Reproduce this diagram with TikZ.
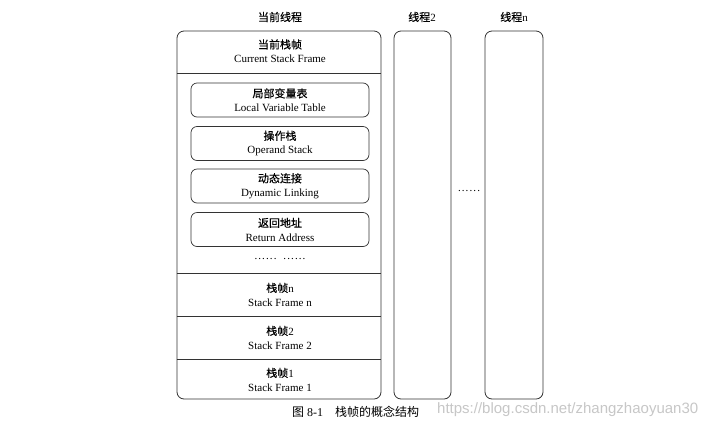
\documentclass[tikz,border=0pt]{standalone}
\usepackage{fontspec}
\setmainfont{Liberation Serif}
\newfontfamily\cjk[FakeBold=0.4]{Noto Sans CJK SC}
\newfontfamily\cjkreg{Noto Sans CJK SC}
\newfontfamily\wm{Liberation Sans}
\newcommand\mydots{.\kern1.1pt.\kern1.1pt.\kern1.1pt.\kern1.1pt.\kern1.1pt.}
\begin{document}
\begin{tikzpicture}[x=1pt,y=-1pt,
  frame/.style={draw=black!80,line width=0.8pt,rounded corners=7pt},
  inner/.style={draw=black!80,line width=0.7pt,rounded corners=6pt,minimum width=178pt,minimum height=34pt},
  lab/.style={align=center,font=\fontsize{11}{14}\selectfont,inner sep=0pt},
  sep/.style={draw=black!80,line width=0.7pt}]
\useasboundingbox (0,0) rectangle (722,429);
\fill[white] (0,0) rectangle (722,429);
% headings
\node[lab] (h1) at (280,17) {\cjk 当前线程};
\node[lab] (h2) at (422,17) {\cjk 线程\rmfamily 2};
\node[lab] (h3) at (514,17) {\cjk 线程\rmfamily n};
% thread boxes
\node[frame,minimum width=204pt,minimum height=368pt,inner sep=0pt] (t1) at (279,215) {};
\node[frame,minimum width=57pt,minimum height=368pt,inner sep=0pt] (t2) at (422.5,215) {};
\node[frame,minimum width=58pt,minimum height=368pt,inner sep=0pt] (t3) at (514,215) {};
% separators
\coordinate (s1) at (0,73);
\coordinate (s2) at (0,273);
\coordinate (s3) at (0,316);
\coordinate (s4) at (0,359);
\draw[sep] (t1.west |- s1) -- (t1.east |- s1);
\draw[sep] (t1.west |- s2) -- (t1.east |- s2);
\draw[sep] (t1.west |- s3) -- (t1.east |- s3);
\draw[sep] (t1.west |- s4) -- (t1.east |- s4);
% current frame header
\node[lab] (cur) at (280,51) {{\cjk 当前栈帧}\\Current Stack Frame};
% inner boxes
\node[inner] (b1) at (280,100) {};
\node[lab] at (b1) {{\cjk 局部变量表}\\Local Variable Table};
\node[inner] (b2) at (280,143.5) {};
\node[lab] at (b2) {{\cjk 操作栈}\\Operand Stack};
\node[inner] (b3) at (280,186) {};
\node[lab] at (b3) {{\cjk 动态连接}\\Dynamic Linking};
\node[inner] (b4) at (280,229.5) {};
\node[lab] at (b4) {{\cjk 返回地址}\\Return Address};
\node[lab] (dots1) at (280,259) {\mydots\hspace{7pt}\mydots};
% frames
\node[lab] (fn) at (280,294.5) {{\cjk 栈帧}n\\Stack Frame n};
\node[lab] (f2) at (280,337.5) {{\cjk 栈帧}2\\Stack Frame 2};
\node[lab] (f1) at (280,379.5) {{\cjk 栈帧}1\\Stack Frame 1};
% middle dots
\node[lab] (dots2) at (469,191) {\mydots};
% caption
\node[anchor=west,inner sep=0pt,font=\fontsize{12}{14}\selectfont] (cap) at (292,412) {{\cjkreg 图}\ 8-1\quad{\cjkreg 栈帧的概念结构}};
\node[anchor=west,inner sep=0pt,text=black!22,font=\wm\fontsize{15}{15}\selectfont] (wmk) at (437,410) {https://blog.csdn.net/zhangzhaoyuan30};
\end{tikzpicture}
\end{document}
